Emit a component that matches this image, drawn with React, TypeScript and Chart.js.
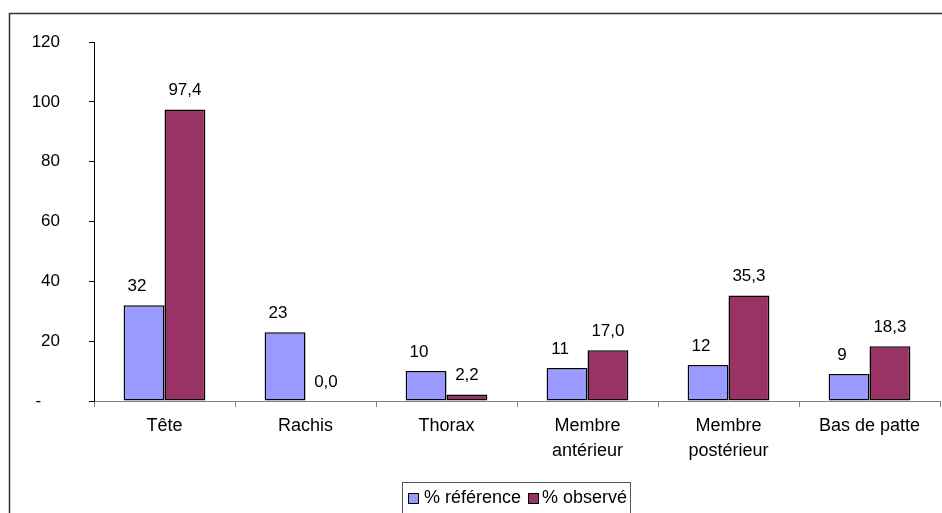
import React, { useEffect, useRef } from "react";
import { Chart, registerables } from "chart.js";

Chart.register(...registerables);

const categories: (string | string[])[] = [
  "Tête",
  "Rachis",
  "Thorax",
  ["Membre", "antérieur"],
  ["Membre", "postérieur"],
  "Bas de patte",
];
const referenceValues = [32, 23, 10, 11, 12, 9];
const observedValues = [97.4, 0.0, 2.2, 17.0, 35.3, 18.3];
const seriesNames = ["% référence", "% observé"];
const yTicks = [0, 20, 40, 60, 80, 100, 120];

const BLUE = "#9999FF";
const RED = "#993366";
const FONT = "'Liberation Sans', Arial, sans-serif";
const FS = 17;
const FS_TEXT = 18;

const framePlugin = {
  id: "frame",
  beforeDraw(chart: any) {
    const ctx = chart.ctx;
    ctx.save();
    ctx.strokeStyle = "#333";
    ctx.lineWidth = 1.5;
    ctx.beginPath();
    ctx.moveTo(9.5, 513);
    ctx.lineTo(9.5, 13.5);
    ctx.lineTo(942, 13.5);
    ctx.stroke();
    ctx.restore();
  },
};

const labelsPlugin = {
  id: "barLabels",
  afterDatasetsDraw(chart: any) {
    const ctx = chart.ctx;
    ctx.save();
    ctx.font = `${FS}px ${FONT}`;
    ctx.fillStyle = "#000";
    ctx.textAlign = "center";
    ctx.textBaseline = "middle";
    chart.data.datasets.forEach((ds: any, di: number) => {
      const meta = chart.getDatasetMeta(di);
      meta.data.forEach((bar: any, i: number) => {
        const v = ds.data[i] as number;
        const txt = di === 0 ? String(v) : v.toFixed(1).replace(".", ",");
        const dx = di === 0 ? -7 : 0;
        ctx.fillText(txt, bar.x + dx, bar.y - 19);
      });
    });
    ctx.restore();
  },
};

const legendPlugin = {
  id: "customLegend",
  afterDraw(chart: any) {
    const ctx = chart.ctx;
    ctx.save();
    ctx.strokeStyle = "#555";
    ctx.lineWidth = 1;
    ctx.strokeRect(402.5, 482.5, 228, 40);
    const items = [
      { sq: 408, tx: 424, color: BLUE, label: seriesNames[0] },
      { sq: 528, tx: 542, color: RED, label: seriesNames[1] },
    ];
    ctx.font = `${FS_TEXT}px ${FONT}`;
    ctx.textBaseline = "middle";
    ctx.textAlign = "left";
    items.forEach((it) => {
      ctx.fillStyle = it.color;
      ctx.fillRect(it.sq + 0.5, 493.5, 10, 10);
      ctx.strokeStyle = "#000";
      ctx.strokeRect(it.sq + 0.5, 493.5, 10, 10);
      ctx.fillStyle = "#000";
      ctx.fillText(it.label, it.tx, 498);
    });
    ctx.restore();
  },
};

export default function App() {
  const ref = useRef<HTMLCanvasElement>(null);
  useEffect(() => {
    if (!ref.current) return;
    const chart = new Chart(ref.current, {
      type: "bar",
      data: {
        labels: categories,
        datasets: [
          {
            label: seriesNames[0],
            data: referenceValues,
            backgroundColor: BLUE,
            borderColor: "#000",
            borderWidth: 1.5,
            borderSkipped: false,
          },
          {
            label: seriesNames[1],
            data: observedValues,
            backgroundColor: RED,
            borderColor: "#000",
            borderWidth: 1.5,
            borderSkipped: false,
          },
        ],
      },
      options: {
        animation: false,
        responsive: false,
        events: [],
        layout: { padding: { top: 42, right: 2, left: 0, bottom: 0 } },
        datasets: {
          bar: { categoryPercentage: 0.58, barPercentage: 1 },
        },
        plugins: {
          legend: { display: false },
          tooltip: { enabled: false },
        },
        scales: {
          x: {
            offset: true,
            grid: {
              display: true,
              drawOnChartArea: false,
              color: "#808080",
              tickLength: 6,
              offset: true,
            },
            border: { color: "#808080", width: 1 },
            ticks: {
              color: "#000",
              font: { family: FONT, size: FS_TEXT, lineHeight: 25 / FS_TEXT },
              padding: 7,
              maxRotation: 0,
              autoSkip: false,
            },
            afterFit(scale: any) {
              scale.height = 112;
            },
          },
          y: {
            min: 0,
            max: 120,
            afterBuildTicks(scale: any) {
              scale.ticks = yTicks.map((v) => ({ value: v }));
            },
            grid: {
              display: true,
              drawOnChartArea: false,
              color: "#000",
              tickLength: 5,
            },
            border: { color: "#000", width: 1 },
            ticks: {
              color: "#000",
              font: { family: FONT, size: FS },
              padding: 29,
              callback: (v: any) =>
                Number(v) === 0 ? "-\u00a0\u00a0\u00a0\u00a0" : String(v),
            },
            afterFit(scale: any) {
              scale.width = 94;
            },
          },
        },
      },
      plugins: [framePlugin, labelsPlugin, legendPlugin],
    });
    return () => chart.destroy();
  }, []);
  return (
    <div style={{ position: "absolute", left: 0, top: 0, width: 942, height: 513 }}>
      <canvas ref={ref} width={942} height={513} style={{ width: 942, height: 513, display: "block" }} />
    </div>
  );
}
